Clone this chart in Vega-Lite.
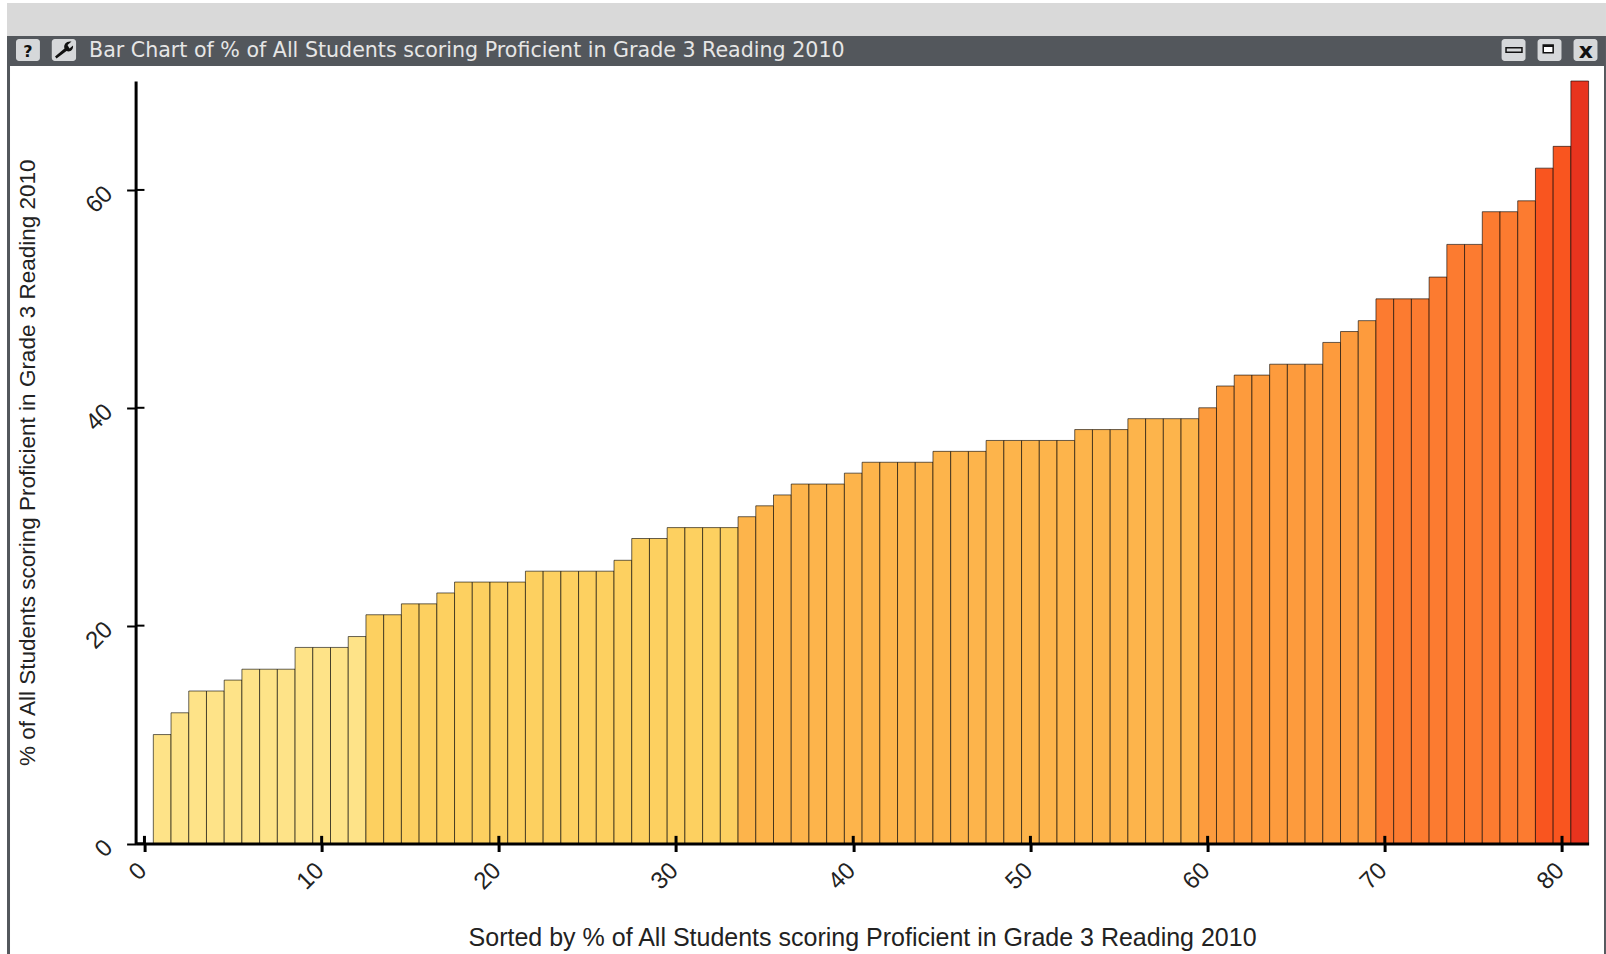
{"$schema":"https://vega.github.io/schema/vega-lite/v6.json","autosize":{"type":"none"},"padding":{"left":135.6,"top":81,"right":17.4,"bottom":110.5},"width":1453,"height":762.5,"background":"#ffffff","config":{"view":{"stroke":null},"font":"Liberation Sans"},"datasets":{"rows":[{"rank":1,"value":10},{"rank":2,"value":12},{"rank":3,"value":14},{"rank":4,"value":14},{"rank":5,"value":15},{"rank":6,"value":16},{"rank":7,"value":16},{"rank":8,"value":16},{"rank":9,"value":18},{"rank":10,"value":18},{"rank":11,"value":18},{"rank":12,"value":19},{"rank":13,"value":21},{"rank":14,"value":21},{"rank":15,"value":22},{"rank":16,"value":22},{"rank":17,"value":23},{"rank":18,"value":24},{"rank":19,"value":24},{"rank":20,"value":24},{"rank":21,"value":24},{"rank":22,"value":25},{"rank":23,"value":25},{"rank":24,"value":25},{"rank":25,"value":25},{"rank":26,"value":25},{"rank":27,"value":26},{"rank":28,"value":28},{"rank":29,"value":28},{"rank":30,"value":29},{"rank":31,"value":29},{"rank":32,"value":29},{"rank":33,"value":29},{"rank":34,"value":30},{"rank":35,"value":31},{"rank":36,"value":32},{"rank":37,"value":33},{"rank":38,"value":33},{"rank":39,"value":33},{"rank":40,"value":34},{"rank":41,"value":35},{"rank":42,"value":35},{"rank":43,"value":35},{"rank":44,"value":35},{"rank":45,"value":36},{"rank":46,"value":36},{"rank":47,"value":36},{"rank":48,"value":37},{"rank":49,"value":37},{"rank":50,"value":37},{"rank":51,"value":37},{"rank":52,"value":37},{"rank":53,"value":38},{"rank":54,"value":38},{"rank":55,"value":38},{"rank":56,"value":39},{"rank":57,"value":39},{"rank":58,"value":39},{"rank":59,"value":39},{"rank":60,"value":40},{"rank":61,"value":42},{"rank":62,"value":43},{"rank":63,"value":43},{"rank":64,"value":44},{"rank":65,"value":44},{"rank":66,"value":44},{"rank":67,"value":46},{"rank":68,"value":47},{"rank":69,"value":48},{"rank":70,"value":50},{"rank":71,"value":50},{"rank":72,"value":50},{"rank":73,"value":52},{"rank":74,"value":55},{"rank":75,"value":55},{"rank":76,"value":58},{"rank":77,"value":58},{"rank":78,"value":59},{"rank":79,"value":62},{"rank":80,"value":64},{"rank":81,"value":70}],"yticks":[{"v":0},{"v":20},{"v":40},{"v":60}],"xticks":[{"v":0},{"v":10},{"v":20},{"v":30},{"v":40},{"v":50},{"v":60},{"v":70},{"v":80}]},"layer":[{"data":{"name":"rows"},"mark":{"type":"bar","width":17.72,"stroke":"#000000","strokeOpacity":0.6,"strokeWidth":1,"clip":false},"encoding":{"x":{"field":"rank","type":"quantitative","scale":{"domain":[-0.5,81.5],"nice":false,"zero":false,"padding":0},"axis":{"values":[0,10,20,30,40,50,60,70,80],"title":"Sorted by % of All Students scoring Proficient in Grade 3 Reading 2010","titleFont":"Liberation Sans","titleFontSize":25,"titleFontWeight":"normal","titleColor":"#222222","titleY":94,"titleBaseline":"middle","labelFont":"Liberation Sans","labelFontSize":24,"labelColor":"#222222","labelAngle":-45,"labelAlign":"right","labelBaseline":"middle","labelPadding":15,"labelOffset":-2,"labelOverlap":false,"labelFlush":false,"grid":false,"domainColor":"#000000","domainWidth":3,"tickColor":"#000000","tickWidth":3,"tickSize":8,"zindex":1}},"y":{"field":"value","type":"quantitative","scale":{"domain":[0,70],"nice":false},"axis":{"values":[0,20,40,60],"title":"% of All Students scoring Proficient in Grade 3 Reading 2010","titleFont":"Liberation Sans","titleFontSize":22.5,"titleFontWeight":"normal","titleColor":"#222222","titleX":-108,"titleBaseline":"middle","labelFont":"Liberation Sans","labelFontSize":24,"labelColor":"#222222","labelAngle":-45,"labelAlign":"right","labelBaseline":"middle","labelPadding":18,"labelOverlap":false,"grid":false,"domainColor":"#000000","domainWidth":3,"tickColor":"#000000","tickWidth":2,"tickSize":9,"zindex":1}},"color":{"field":"value","type":"quantitative","legend":null,"scale":{"type":"threshold","domain":[20,30,40,50,60,70],"range":["#FEE388","#FDD060","#FDB44B","#FD9B3D","#FC7B30","#F9551F","#E8341E"]}}}},{"data":{"name":"yticks"},"mark":{"type":"rule","color":"#000000","strokeWidth":2},"encoding":{"y":{"field":"v","type":"quantitative"},"x":{"datum":-0.5},"x2":{"datum":0}}},{"data":{"name":"xticks"},"mark":{"type":"rule","color":"#000000","strokeWidth":3},"encoding":{"x":{"field":"v","type":"quantitative"},"y":{"datum":0},"y2":{"datum":0.7}}},{"data":{"values":[{}]},"mark":{"type":"rect","color":"#d9d9d9","clip":false},"encoding":{"x":{"datum":-7.757},"x2":{"datum":82.48},"y":{"datum":77.16},"y2":{"datum":74.13}}},{"data":{"values":[{}]},"mark":{"type":"rect","color":"#53575c","clip":false},"encoding":{"x":{"datum":-7.757},"x2":{"datum":82.48},"y":{"datum":74.13},"y2":{"datum":71.38}}},{"data":{"values":[{}]},"mark":{"type":"rect","color":"#53575c","clip":false},"encoding":{"x":{"datum":-7.757},"x2":{"datum":-7.588},"y":{"datum":71.38},"y2":{"datum":-10.14}}},{"data":{"values":[{}]},"mark":{"type":"rect","color":"#53575c","clip":false},"encoding":{"x":{"datum":82.37},"x2":{"datum":82.48},"y":{"datum":71.38},"y2":{"datum":-10.14}}},{"data":{"values":[{}]},"mark":{"type":"rect","color":"#d6d8da","cornerRadius":3,"clip":false},"encoding":{"x":{"datum":-7.25},"x2":{"datum":-5.9},"y":{"datum":73.85},"y2":{"datum":71.84}}},{"data":{"values":[{}]},"mark":{"type":"rect","color":"#d6d8da","cornerRadius":3,"clip":false},"encoding":{"x":{"datum":-5.23},"x2":{"datum":-3.86},"y":{"datum":73.85},"y2":{"datum":71.84}}},{"data":{"values":[{}]},"mark":{"type":"rect","color":"#d6d8da","cornerRadius":3,"clip":false},"encoding":{"x":{"datum":76.59},"x2":{"datum":77.94},"y":{"datum":73.85},"y2":{"datum":71.84}}},{"data":{"values":[{}]},"mark":{"type":"rect","color":"#d6d8da","cornerRadius":3,"clip":false},"encoding":{"x":{"datum":78.62},"x2":{"datum":79.97},"y":{"datum":73.85},"y2":{"datum":71.84}}},{"data":{"values":[{}]},"mark":{"type":"rect","color":"#d6d8da","cornerRadius":3,"clip":false},"encoding":{"x":{"datum":80.65},"x2":{"datum":82.0},"y":{"datum":73.85},"y2":{"datum":71.84}}},{"data":{"values":[{"t":"Bar Chart of % of All Students scoring Proficient in Grade 3 Reading 2010"}]},"mark":{"type":"text","font":"DejaVu Sans","fontSize":20.6,"color":"#e6e6e6","align":"left","baseline":"middle","clip":false},"encoding":{"text":{"field":"t"},"x":{"datum":-3.13},"y":{"datum":72.72}}},{"data":{"values":[{"t":"?"}]},"mark":{"type":"text","font":"DejaVu Sans","fontWeight":"bold","fontSize":16,"color":"#111111","align":"center","baseline":"middle","clip":false},"encoding":{"text":{"field":"t"},"x":{"datum":-6.58},"y":{"datum":72.67}}},{"data":{"values":[{"t":"x"}]},"mark":{"type":"text","font":"DejaVu Sans","fontWeight":"bold","fontSize":22,"color":"#111111","align":"center","baseline":"middle","clip":false},"encoding":{"text":{"field":"t"},"x":{"datum":81.35},"y":{"datum":72.75}}},{"data":{"values":[{}]},"mark":{"type":"point","filled":true,"color":"#111111","size":400,"opacity":1,"shape":"M-0.75 0.85 L-0.9 0.65 L0.05 -0.15 C-0.1 -0.6 0.3 -0.95 0.75 -0.85 L0.35 -0.5 L0.55 -0.15 L0.9 -0.45 C0.95 0 0.6 0.25 0.25 0.1 Z","clip":false},"encoding":{"x":{"datum":-4.54},"y":{"datum":72.84}}},{"data":{"values":[{}]},"mark":{"type":"rect","fill":"#d6d8da","stroke":"#111111","strokeWidth":1.5,"clip":false},"encoding":{"x":{"datum":76.84},"x2":{"datum":77.74},"y":{"datum":73.06},"y2":{"datum":72.63}}},{"data":{"values":[{}]},"mark":{"type":"rect","fill":"#ffffff","stroke":"#111111","strokeWidth":1.5,"clip":false},"encoding":{"x":{"datum":78.94},"x2":{"datum":79.5},"y":{"datum":73.3},"y2":{"datum":72.6}}},{"data":{"values":[{}]},"mark":{"type":"rect","color":"#111111","clip":false},"encoding":{"x":{"datum":78.94},"x2":{"datum":79.5},"y":{"datum":73.3},"y2":{"datum":73.12}}}]}
